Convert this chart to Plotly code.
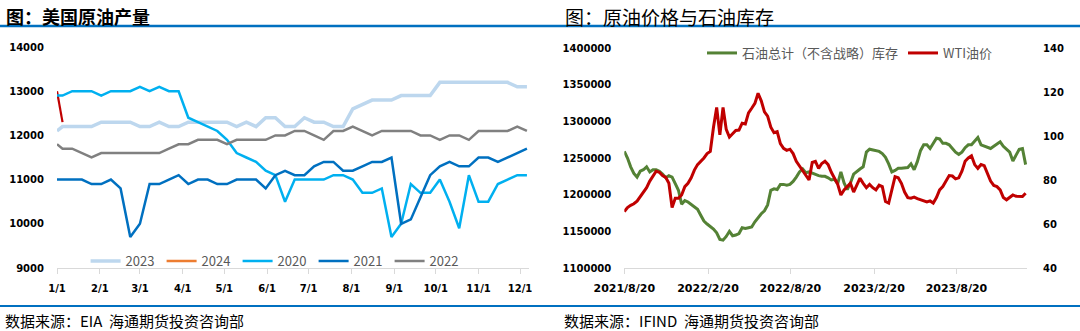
import plotly.graph_objects as go
import pandas as pd

W, H = 1080, 331

# ---------------- Left chart: US crude production (kb/d), weekly ----------------
week_dates = ["2024-01-01"] + [d.strftime("%Y-%m-%d") for d in pd.date_range("2024-01-05", periods=49, freq="7D")]
month_ticks = ["2024-%02d-01" % m for m in range(1, 13)]
month_labels = ["1/1", "2/1", "3/1", "4/1", "5/1", "6/1", "7/1", "8/1", "9/1", "10/1", "11/1", "12/1"]

prod_2023 = [12100, 12200, 12200, 12200, 12200, 12300, 12300, 12300, 12300, 12200,
             12200, 12300, 12200, 12200, 12300, 12300, 12300, 12300, 12300, 12200,
             12300, 12200, 12400, 12400, 12200, 12200, 12400, 12300, 12300, 12200,
             12200, 12600, 12700, 12800, 12800, 12800, 12900, 12900, 12900, 12900,
             13200, 13200, 13200, 13200, 13200, 13200, 13200, 13200, 13100, 13100]
prod_2024 = [13000, 12300]
prod_2020 = [12900, 12900, 13000, 13000, 13000, 12900, 13000, 13000, 13000, 13100,
             13000, 13100, 13000, 13000, 12400, 12300, 12200, 12100, 11900, 11600,
             11500, 11400, 11200, 11100, 10500, 11000, 11000, 11000, 11000, 11100,
             11100, 11000, 10700, 10700, 10800, 9700, 10000, 10900, 10700, 10700,
             11000, 10500, 9900, 11100, 10500, 10500, 10900, 11000, 11100, 11100]
prod_2021 = [11000, 11000, 11000, 11000, 10900, 10900, 11000, 10800, 9700, 10000,
             10900, 10900, 11000, 11100, 10900, 11000, 11000, 10900, 10900, 11000,
             11000, 11000, 10800, 11100, 11200, 11100, 11100, 11300, 11400, 11400,
             11200, 11200, 11300, 11400, 11400, 11500, 10000, 10100, 10600, 11100,
             11300, 11400, 11300, 11300, 11500, 11500, 11400, 11500, 11600, 11700]
prod_2022 = [11800, 11700, 11700, 11600, 11500, 11600, 11600, 11600, 11600, 11600,
             11600, 11600, 11700, 11800, 11800, 11900, 11900, 11900, 11800, 11900,
             11900, 11900, 11900, 12000, 12000, 12100, 12100, 12000, 11900, 12100,
             12100, 12200, 12100, 12000, 12100, 12100, 12100, 12100, 12000, 12000,
             11900, 12000, 12000, 11900, 12100, 12100, 12100, 12100, 12200, 12100]

# ---------------- Right chart: inventory (kbbl) & WTI ($/bbl), weekly ----------------
inv_dates = [d.strftime("%Y-%m-%d") for d in pd.date_range("2021-08-20", periods=127, freq="7D")]
date_ticks = ["2021-08-20", "2022-02-20", "2022-08-20", "2023-02-20", "2023-08-20"]
date_labels = ["2021/8/20", "2022/2/20", "2022/8/20", "2023/2/20", "2023/8/20"]

inventory = [1259000, 1250000, 1238000, 1229000, 1224000, 1232000, 1234000, 1238000, 1231000, 1234000,
             1234000, 1232000, 1228000, 1223000, 1226000, 1224000, 1215000, 1206000, 1187000, 1192000,
             1190000, 1187000, 1184000, 1180000, 1172000, 1164000, 1160000, 1157000, 1153000, 1148000,
             1139000, 1138000, 1143000, 1150000, 1144000, 1145000, 1147000, 1155000, 1154000, 1155000,
             1156000, 1163000, 1169000, 1174000, 1178000, 1186000, 1206000, 1208000, 1207000, 1214000,
             1214000, 1213000, 1214000, 1218000, 1224000, 1231000, 1235000, 1230000, 1231000, 1229000,
             1227000, 1226000, 1225000, 1225000, 1223000, 1220000, 1221000, 1215000, 1231000, 1216000,
             1207000, 1216000, 1228000, 1232000, 1235000, 1238000, 1258000, 1262000, 1261000, 1260000,
             1259000, 1256000, 1251000, 1242000, 1231000, 1233000, 1236000, 1236000, 1236000, 1237000,
             1242000, 1234000, 1245000, 1260000, 1268000, 1268000, 1263000, 1270000, 1277000, 1276000,
             1270000, 1270000, 1268000, 1263000, 1258000, 1255000, 1258000, 1264000, 1268000, 1268000,
             1273000, 1278000, 1268000, 1266000, 1264000, 1263000, 1266000, 1269000, 1272000, 1266000,
             1262000, 1258000, 1246000, 1255000, 1262000, 1263000, 1241000]
wti = [65.6, 67.5, 68.5, 69.2, 70.4, 72.4, 74.0, 76.5, 79.5, 82.0,
       84.0, 83.5, 82.0, 81.2, 78.5, 67.5, 71.7, 71.7, 73.2, 77.0,
       78.5, 81.0, 84.5, 87.0, 88.5, 90.0, 92.0, 93.0, 104.0, 113.0,
       100.5, 113.0, 103.0, 99.5, 101.0, 102.5, 102.7, 105.8, 105.5, 110.5,
       112.6, 114.8, 119.4, 116.0, 111.0, 109.0, 104.0, 101.5, 102.0, 96.5,
       94.4, 93.5, 94.0, 92.0, 88.5, 86.5, 84.0, 82.5, 80.0, 88.0,
       88.5, 85.3, 87.5, 88.5, 87.0, 83.5, 80.5, 78.0, 73.2, 75.5,
       77.0, 78.5, 74.5, 77.5, 80.8, 78.5, 76.5, 78.0, 76.5, 75.5,
       77.7, 77.0, 70.2, 69.5, 75.5, 81.5, 81.0, 78.5, 74.5, 72.0,
       71.7, 72.2, 71.5, 71.0, 70.5, 70.0, 70.5, 69.5, 72.0, 75.5,
       77.0, 79.5, 82.0, 81.8, 80.5, 81.0, 84.0, 88.5, 90.0, 91.0,
       87.0, 85.3, 87.0, 86.5, 83.0, 79.5, 77.5, 77.0, 75.5, 72.0,
       71.0, 72.0, 73.2, 72.6, 72.4, 72.5, 74.0]

CJK = "Noto Sans CJK SC"
TICKFONT = dict(family="DejaVu Sans", size=10, color="#000000", weight="bold")
TICKFONT_X2 = dict(family="DejaVu Sans", size=11, color="#000000", weight="bold")
LEGFONT = dict(family=CJK, size=13, color="#595959")


def px_x(p):
    return p / W


def px_y(p):
    return (H - p) / H


fig = go.Figure()

# left chart traces
fig.add_trace(go.Scatter(x=week_dates, y=prod_2023, name="2023", mode="lines",
                         line=dict(color="#BDD7EE", width=3.5), xaxis="x", yaxis="y", legend="legend"))
fig.add_trace(go.Scatter(x=week_dates[:len(prod_2024)], y=prod_2024, name="2024", mode="lines",
                         line=dict(color="#C00000", width=2.2), xaxis="x", yaxis="y", showlegend=False))
fig.add_trace(go.Scatter(x=[None], y=[None], name="2024", mode="lines",
                         line=dict(color="#ED7D31", width=2.5), xaxis="x", yaxis="y", legend="legend"))
fig.add_trace(go.Scatter(x=week_dates, y=prod_2020, name="2020", mode="lines",
                         line=dict(color="#00B0F0", width=2.5), xaxis="x", yaxis="y", legend="legend"))
fig.add_trace(go.Scatter(x=week_dates, y=prod_2021, name="2021", mode="lines",
                         line=dict(color="#0070C0", width=2.5), xaxis="x", yaxis="y", legend="legend"))
fig.add_trace(go.Scatter(x=week_dates, y=prod_2022, name="2022", mode="lines",
                         line=dict(color="#808080", width=2.5), xaxis="x", yaxis="y", legend="legend"))

# right chart traces
fig.add_trace(go.Scatter(x=inv_dates, y=inventory, name="石油总计（不含战略）库存", mode="lines",
                         line=dict(color="#548235", width=3), xaxis="x2", yaxis="y2", legend="legend2"))
fig.add_trace(go.Scatter(x=inv_dates, y=wti, name="WTI油价", mode="lines",
                         line=dict(color="#C00000", width=3), xaxis="x2", yaxis="y3", legend="legend2"))

axis_common = dict(showgrid=False, zeroline=False, automargin=False)

fig.update_layout(
    width=W, height=H, autosize=False,
    margin=dict(l=0, r=0, t=0, b=0, pad=0, autoexpand=False),
    paper_bgcolor="white", plot_bgcolor="white",
    xaxis=dict(domain=[px_x(57), px_x(529)], type="date",
               range=["2024-01-01", "2024-12-07 12:00"],
               tickvals=month_ticks, ticktext=month_labels,
               showline=True, linecolor="#D9D9D9", linewidth=1,
               ticks="outside", ticklen=5, tickcolor="#D9D9D9",
               ticklabelstandoff=6,
               tickfont=TICKFONT, anchor="y", **axis_common),
    yaxis=dict(domain=[px_y(268), px_y(47)], range=[9000, 14000],
               tickvals=[9000, 10000, 11000, 12000, 13000, 14000], tickformat="d",
               ticks="", showline=False, tickfont=TICKFONT, anchor="x",
               ticklabelstandoff=12, **axis_common),
    xaxis2=dict(domain=[px_x(624.3), px_x(1027)], type="date",
                range=["2021-08-20", "2024-01-22"],
                tickvals=date_ticks, ticktext=date_labels,
                showline=True, linecolor="#D9D9D9", linewidth=1,
                ticks="outside", ticklen=5, tickcolor="#D9D9D9",
                ticklabelstandoff=5,
                tickfont=TICKFONT_X2, anchor="y2", **axis_common),
    yaxis2=dict(domain=[px_y(268), px_y(48)], range=[1100000, 1400000],
                tickvals=[1100000, 1150000, 1200000, 1250000, 1300000, 1350000, 1400000],
                tickformat="d", ticks="", showline=False, tickfont=TICKFONT,
                anchor="x2", ticklabelstandoff=12, **axis_common),
    yaxis3=dict(range=[40, 140], overlaying="y2", side="right", anchor="x2",
                tickvals=[40, 60, 80, 100, 120, 140],
                ticks="", showline=False, tickfont=TICKFONT,
                ticklabelstandoff=15, **axis_common),
    legend=dict(orientation="h", x=px_x(85.6), xanchor="left", y=px_y(261), yanchor="middle",
                font=LEGFONT, bgcolor="rgba(0,0,0,0)", itemwidth=30,
                entrywidth=31, entrywidthmode="pixels", traceorder="normal"),
    legend2=dict(orientation="h", x=px_x(702), xanchor="left", y=px_y(53), yanchor="middle",
                 font=LEGFONT, bgcolor="rgba(0,0,0,0)", itemwidth=30, traceorder="normal"),
    showlegend=True,
)

# titles, sources
fig.add_annotation(text="图：美国原油产量", x=px_x(4), y=px_y(16), xref="paper", yref="paper",
                   xanchor="left", yanchor="middle", showarrow=False,
                   font=dict(family=CJK, size=18, color="#000000", weight="bold"))
fig.add_annotation(text="图：原油价格与石油库存", x=px_x(563), y=px_y(16), xref="paper", yref="paper",
                   xanchor="left", yanchor="middle", showarrow=False,
                   font=dict(family=CJK, size=19, color="#000000"))
fig.add_annotation(text="数据来源：EIA  海通期货投资咨询部", x=px_x(3), y=px_y(320), xref="paper", yref="paper",
                   xanchor="left", yanchor="middle", showarrow=False,
                   font=dict(family=CJK, size=15, color="#000000"))
fig.add_annotation(text="数据来源：IFIND  海通期货投资咨询部", x=px_x(562), y=px_y(320), xref="paper", yref="paper",
                   xanchor="left", yanchor="middle", showarrow=False,
                   font=dict(family=CJK, size=15, color="#000000"))

# blue rules
fig.add_shape(type="line", xref="paper", yref="paper", x0=0, x1=1, y0=px_y(26), y1=px_y(26),
              line=dict(color="#0070C0", width=2.5))
fig.add_shape(type="line", xref="paper", yref="paper", x0=0, x1=1, y0=px_y(306), y1=px_y(306),
              line=dict(color="#0070C0", width=2))

fig.write_html("out.html")
